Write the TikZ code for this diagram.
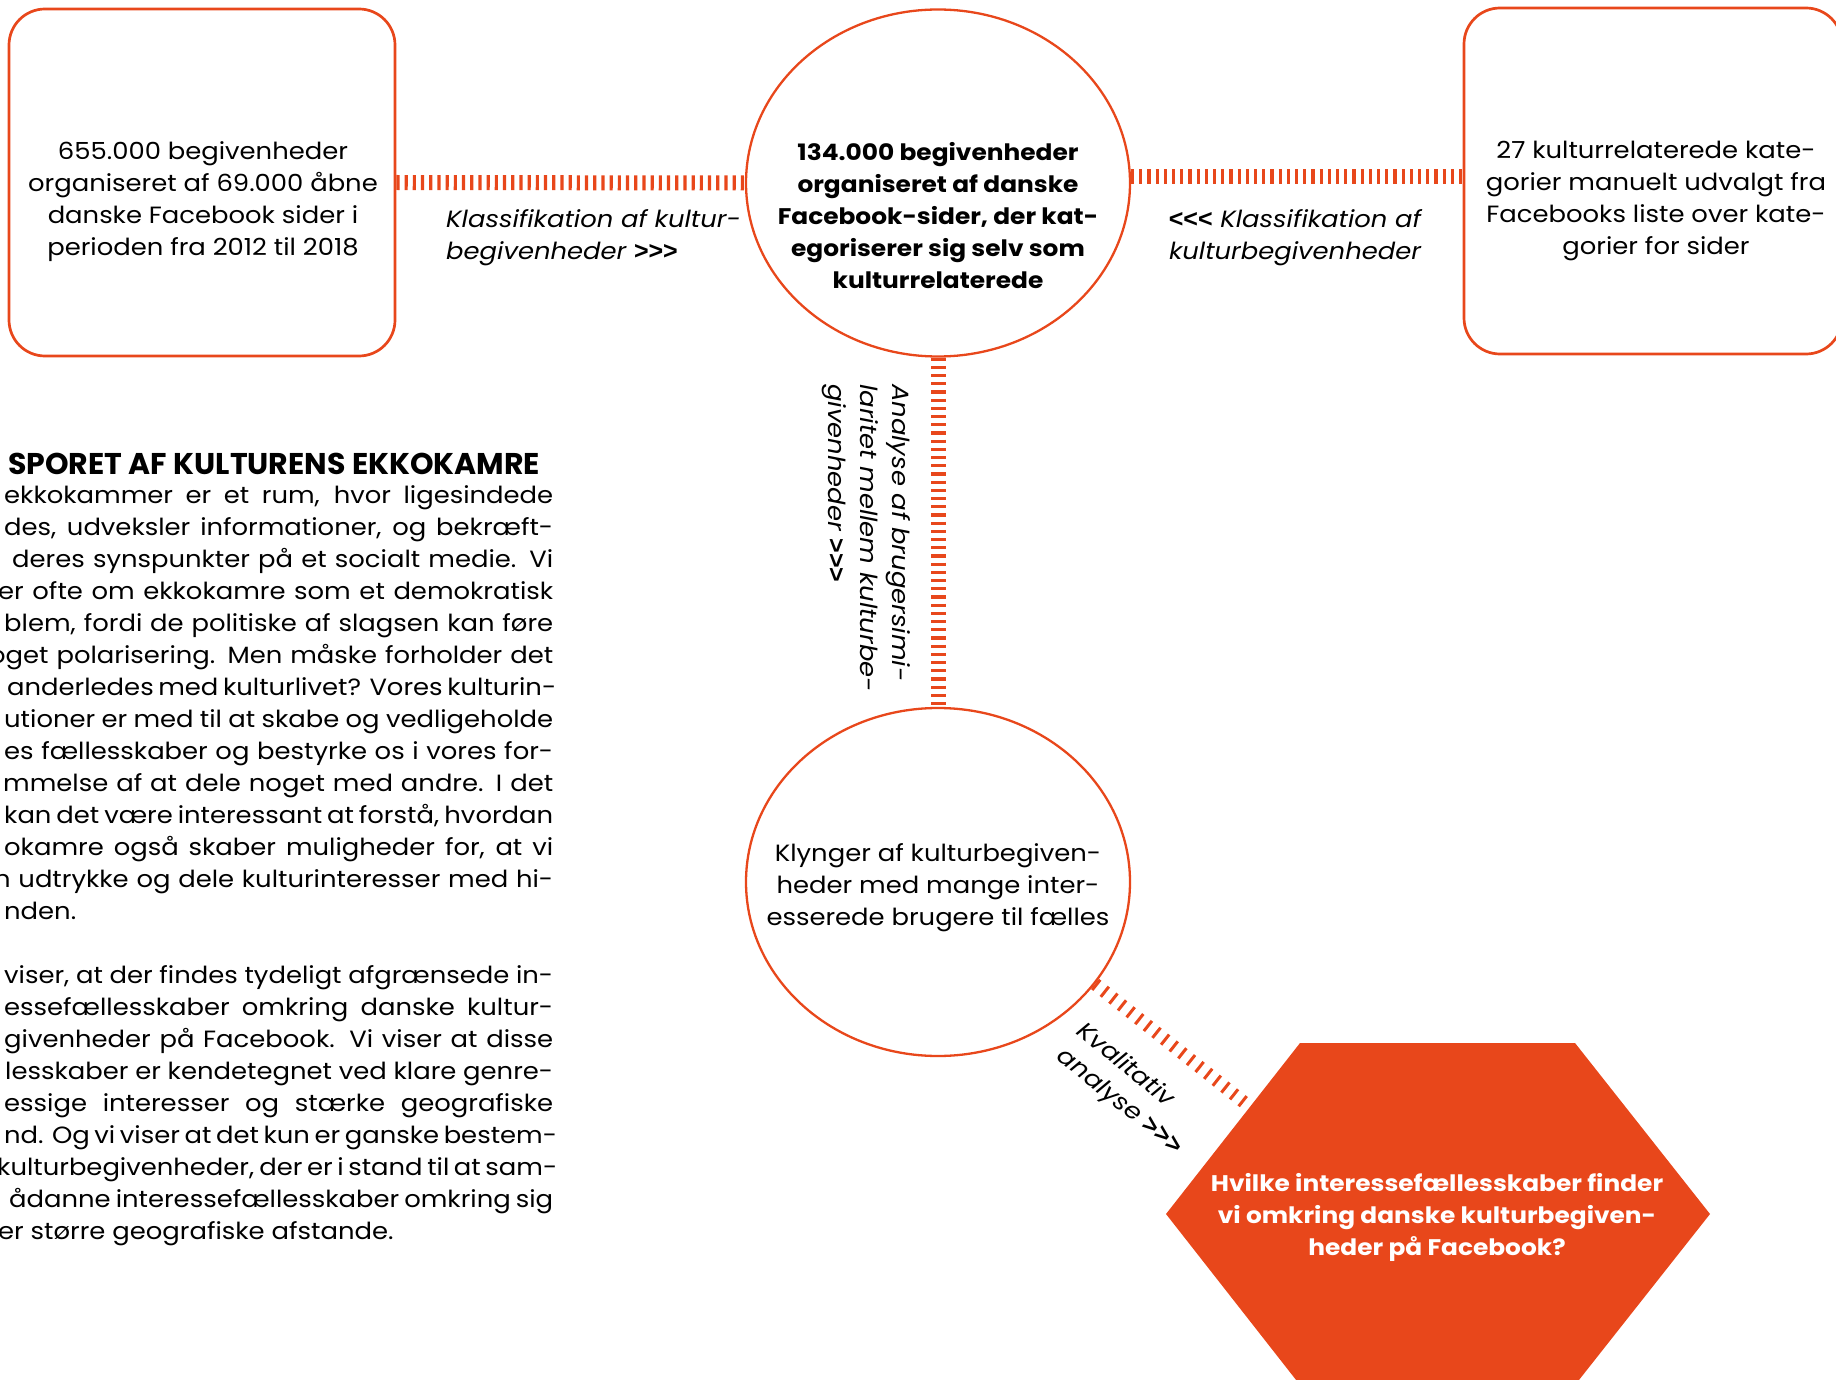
\documentclass[tikz,border=0pt]{standalone}
\usepackage{fontspec}
\setmainfont{Poppins}[FakeStretch=1.1]
\newfontfamily\headfont{Poppins}
\newfontfamily\arrfont{Liberation Sans}
\usetikzlibrary{shapes.geometric}
\definecolor{ora}{HTML}{E8471B}
\newcommand{\fsz}{\fontsize{23.5}{32}\selectfont}
\newcommand{\bfsz}{\fontsize{22.6}{32}\selectfont}
\newcommand{\rarr}{{\arrfont\bfseries\upshape\fontsize{25}{32}\selectfont >\kern0pt>\kern0pt>}}
\newcommand{\larr}{{\arrfont\bfseries\upshape\fontsize{25}{32}\selectfont <\kern0pt<\kern0pt<}}
\tikzset{
  rbox/.style={draw=ora, line width=2.7pt, rounded corners=36pt, inner sep=0pt},
  oval/.style={draw=ora, line width=2.3pt, ellipse, inner sep=0pt},
  txt/.style={font=\fsz, align=center, inner sep=0pt},
  btxt/.style={font=\bfsz\bfseries, align=center, inner sep=0pt},
  lbl/.style={font=\fsz\itshape, inner sep=0pt},
  conn/.style={draw=ora, line width=15pt, dash pattern=on 3.2pt off 5pt},
  diag/.style={draw=ora, line width=13pt, dash pattern=on 3pt off 8pt},
  bl/.style={font=\fsz, anchor=base west, inner sep=0pt},
}
\newcommand{\jline}[4]{\node[bl] (#1) at (#2,#3) {\makebox[\dimexpr553pt-#2pt\relax][s]{#4}};}
\begin{document}
\begin{tikzpicture}[x=1pt,y=-1pt]
\useasboundingbox (0,0) rectangle (1836,1380);
% top row
\node[rbox, minimum width=386pt, minimum height=347pt] (lb) at (202,182.5) {};
\node[txt] (lbt) at (203,201.5) {655.000 begivenheder\\organiseret af 69.000 åbne\\danske Facebook sider i\\perioden fra 2012 til 2018};
\node[oval, minimum width=384pt, minimum height=347pt] (tc) at (938,183) {};
\node[btxt] (tct) at (938,216) {134.000 begivenheder\\organiseret af danske\\Facebook-sider, der kat-\\egoriserer sig selv som\\kulturrelaterede};
\node[rbox, minimum width=378pt, minimum height=346pt] (rb) at (1653,181) {};
\node[txt] (rbt) at (1656,200.5) {27 kulturrelaterede kate-\\gorier manuelt udvalgt fra\\Facebooks liste over kate-\\gorier for sider};
% lower circle
\node[oval, minimum width=384pt, minimum height=348pt] (bc) at (938,882) {};
\node[txt] (bct) at (938,887.5) {Klynger af kulturbegiven-\\heder med mange inter-\\esserede brugere til fælles};
% hexagon
\fill[ora] (1300,1043) -- (1575,1043) -- (1710,1214) -- (1575,1385) -- (1300,1385) -- (1166,1214) -- cycle;
\node[btxt, text=white] (hq) at (1437,1217.5) {Hvilke interessefællesskaber finder\\vi omkring danske kulturbegiven-\\heder på Facebook?};
\coordinate (hqedge) at (1250,1107);
% connectors
\draw[conn] (lb.east) -- (tc.west);
\draw[conn] (tc.2) -- (tc.2 -| rb.west);
\draw[conn] (tc.south) -- (bc.north);
\draw[diag] (bc.-33) -- (hqedge);
% connector labels
\node[lbl, align=left, anchor=west] (l1) at (446,238) {Klassifikation af kultur-\\begivenheder \rarr};
\node[lbl, align=center] (l2) at (1295,238) {\larr\ Klassifikation af\\kulturbegivenheder};
\node[lbl, align=left, rotate=-90] (l3) at (866,538) {Analyse af brugersimi-\\laritet mellem kulturbe-\\givenheder \rarr};
\node[lbl, align=left, rotate=-39] (l4) at (1129,1090) {Kvalitativ\\analyse \rarr};
% text column
\node[font=\headfont\bfseries\fontsize{30}{32}\selectfont, anchor=base west, inner sep=0pt] (hd) at (8,474) {SPORET AF KULTURENS EKKOKAMRE};
\jline{p1}{4}{503}{ekkokammer er et rum, hvor ligesindede}
\jline{p2}{4}{535}{des, udveksler informationer, og bekræft-}
\jline{p3}{12}{567}{deres synspunkter på et socialt medie. Vi}
\jline{p4}{-2}{599}{er ofte om ekkokamre som et demokratisk}
\jline{p5}{4}{631}{blem, fordi de politiske af slagsen kan føre}
\jline{p6}{-11}{663}{oget polarisering. Men måske forholder det}
\jline{p7}{7}{695}{anderledes med kulturlivet? Vores kulturin-}
\jline{p8}{4}{727}{utioner er med til at skabe og vedligeholde}
\jline{p9}{4}{759}{es fællesskaber og bestyrke os i vores for-}
\jline{p10}{3}{791}{mmelse af at dele noget med andre. I det}
\jline{p11}{4}{823}{kan det være interessant at forstå, hvordan}
\jline{p12}{4}{855}{okamre også skaber muligheder for, at vi}
\jline{p13}{-6}{887}{n udtrykke og dele kulturinteresser med hi-}
\node[bl] (p14) at (4,919) {nden.};
\jline{q1}{4}{983}{viser, at der findes tydeligt afgrænsede in-}
\jline{q2}{4}{1015}{essefællesskaber omkring danske kultur-}
\jline{q3}{4}{1047}{givenheder på Facebook. Vi viser at disse}
\jline{q4}{5}{1079}{lesskaber er kendetegnet ved klare genre-}
\jline{q5}{4}{1111}{essige interesser og stærke geografiske}
\jline{q6}{4}{1143}{nd. Og vi viser at det kun er ganske bestem-}
\jline{q7}{-3}{1175}{kulturbegivenheder, der er i stand til at sam-}
\jline{q8}{9}{1207}{ådanne interessefællesskaber omkring sig}
\node[bl] (q9) at (-2,1239) {er større geografiske afstande.};
\end{tikzpicture}
\end{document}
